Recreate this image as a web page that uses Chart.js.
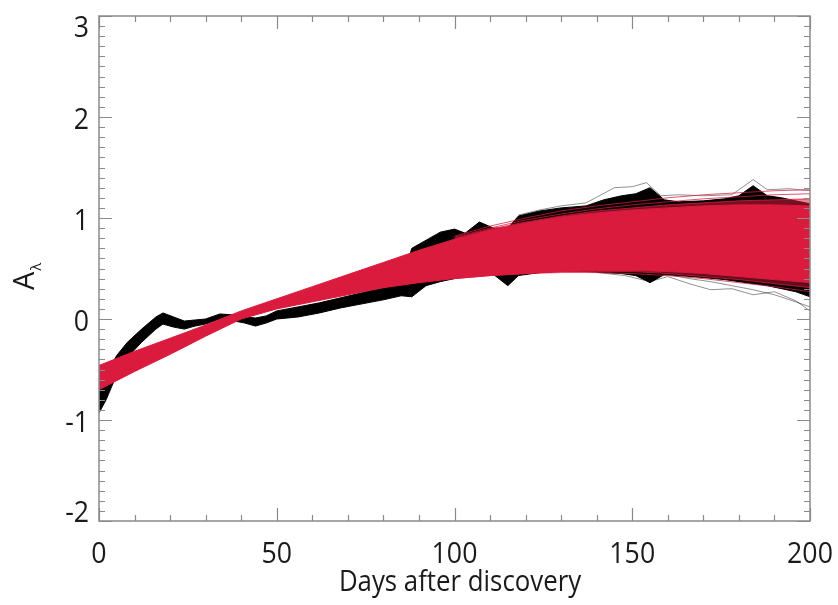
<!DOCTYPE html>
<html>
<head>
<meta charset="utf-8">
<script src="https://cdn.jsdelivr.net/npm/chart.js@4.4.1/dist/chart.umd.min.js"></script>
<style>
  html, body { margin: 0; padding: 0; background: #fff; }
</style>
</head>
<body>
<canvas id="myChart" width="838" height="605"></canvas>
<script>
// Extinction curves: observed ensemble (black) and fitted ensemble (red)
const redDays = [0, 10, 20, 30, 40, 50, 60, 70, 80, 90, 100, 110, 120, 130, 140, 150, 160, 170, 180, 190, 200];
const redHigh = [-0.46, -0.32, -0.19, -0.06, 0.08, 0.20, 0.32, 0.44, 0.56, 0.68, 0.79, 0.88, 0.95, 1.01, 1.05, 1.08, 1.10, 1.12, 1.13, 1.13, 1.12];
const redLow = [-0.70, -0.52, -0.35, -0.17, 0.00, 0.10, 0.17, 0.24, 0.31, 0.36, 0.40, 0.43, 0.45, 0.47, 0.48, 0.48, 0.47, 0.45, 0.42, 0.39, 0.36];

// fitted curves that stray outside the dense band
const strayDays = [100, 110, 120, 130, 140, 150, 160, 170, 180, 190, 200];
const strayA = [0.82, 0.92, 1.00, 1.07, 1.12, 1.16, 1.20, 1.23, 1.25, 1.27, 1.28];
const strayB = [0.81, 0.90, 0.98, 1.04, 1.09, 1.13, 1.16, 1.19, 1.21, 1.23, 1.24];
const strayC = [0.80, 0.89, 0.96, 1.02, 1.07, 1.10, 1.13, 1.15, 1.17, 1.18, 1.19];
const strayD = [0.40, 0.43, 0.45, 0.46, 0.46, 0.45, 0.43, 0.40, 0.36, 0.32, 0.27];
const strayE = [0.41, 0.44, 0.46, 0.47, 0.47, 0.47, 0.45, 0.42, 0.39, 0.35, 0.31];

const blackDays = [0, 2, 5, 8, 12, 16, 18, 21, 24, 27, 30, 34, 38, 41, 44, 47, 50, 56, 62, 68,
  74, 80, 85, 88, 92, 96, 100, 103, 107, 111, 115, 118, 124, 130, 137, 142, 147, 151, 155, 159,
  163, 170, 176, 180, 184, 188, 192, 196, 200];
const blackHigh = [-0.64, -0.55, -0.36, -0.23, -0.10, 0.02, 0.06, 0.02, -0.02, -0.01, 0.00, 0.05, 0.04, 0.02, 0.01, 0.03, 0.08, 0.12, 0.16, 0.21,
  0.26, 0.31, 0.36, 0.70, 0.78, 0.86, 0.89, 0.85, 0.96, 0.90, 0.90, 1.02, 1.07, 1.10, 1.12, 1.18, 1.22, 1.24, 1.30, 1.18,
  1.16, 1.17, 1.19, 1.22, 1.32, 1.22, 1.20, 1.17, 1.14];
const blackLow = [-0.93, -0.80, -0.55, -0.38, -0.23, -0.10, -0.05, -0.08, -0.10, -0.07, -0.05, 0.00, -0.02, -0.04, -0.07, -0.04, 0.00, 0.02, 0.06, 0.11,
  0.15, 0.19, 0.23, 0.22, 0.33, 0.37, 0.40, 0.42, 0.43, 0.44, 0.33, 0.43, 0.46, 0.47, 0.47, 0.46, 0.45, 0.43, 0.36, 0.44,
  0.43, 0.41, 0.39, 0.37, 0.35, 0.33, 0.30, 0.27, 0.22];

// single outlying observed curves
const grayUpperDays = [118, 124, 130, 137, 145, 150, 154, 158, 163, 170, 178, 184, 188, 194, 200];
const grayUpper = [1.03, 1.08, 1.12, 1.15, 1.30, 1.31, 1.35, 1.22, 1.23, 1.22, 1.23, 1.38, 1.28, 1.29, 1.27];
const grayLowerDays = [140, 148, 155, 160, 166, 172, 178, 184, 190, 196, 200];
const grayLower = [0.46, 0.43, 0.37, 0.42, 0.35, 0.29, 0.30, 0.24, 0.27, 0.18, 0.08];
const grayLower2 = [0.47, 0.45, 0.40, 0.44, 0.40, 0.37, 0.33, 0.29, 0.24, 0.17, 0.12];

const xTicks = [0, 50, 100, 150, 200];
const yTicks = [-2, -1, 0, 1, 2, 3];

const RED = "#db1b3d";
const PINK = "rgba(219,27,61,0.75)";
const AXIS = "#8a8a8a";
const TEXT = "#1a1a1a";
const FONT = '"Open Sans"';

const pts = (xs, ys) => xs.map((x, i) => ({ x: x, y: ys[i] }));

const line = (data, color, width, extra) => Object.assign({
    data: data,
    borderColor: color,
    borderWidth: width,
    pointRadius: 0,
    fill: false,
}, extra || {});

// narrow text: squeeze horizontally around the anchor point
function narrowText(ctx, text, x, y, sx) {
    ctx.save();
    ctx.translate(x, y);
    ctx.scale(sx, 1);
    ctx.fillText(text, 0, 0);
    ctx.restore();
}

// spines, inward ticks and labels
const frame = {
    id: "frame",
    afterDraw(chart) {
        const ctx = chart.ctx;
        const a = chart.chartArea;
        const xs = chart.scales.x;
        const ys = chart.scales.y;
        ctx.save();
        ctx.strokeStyle = AXIS;
        ctx.lineWidth = 1.5;
        ctx.strokeRect(a.left, a.top, a.right - a.left, a.bottom - a.top);

        ctx.lineWidth = 1.2;
        ctx.beginPath();
        for (let d = 0; d <= 200; d += 10) {
            const px = Math.round(xs.getPixelForValue(d)) + 0.5;
            const len = d % 50 === 0 ? 13 : 6;
            ctx.moveTo(px, a.bottom); ctx.lineTo(px, a.bottom - len);
            ctx.moveTo(px, a.top); ctx.lineTo(px, a.top + len);
        }
        for (let i = -20; i <= 30; i++) {
            const py = Math.round(ys.getPixelForValue(i / 10)) + 0.5;
            const len = i % 10 === 0 ? 13 : 6;
            ctx.moveTo(a.left, py); ctx.lineTo(a.left + len, py);
            ctx.moveTo(a.right, py); ctx.lineTo(a.right - len, py);
        }
        ctx.stroke();

        ctx.fillStyle = TEXT;
        ctx.font = "29px " + FONT;
        ctx.textAlign = "center";
        ctx.textBaseline = "alphabetic";
        xTicks.forEach(v => narrowText(ctx, String(v), xs.getPixelForValue(v), 563, 0.92));

        ctx.textAlign = "right";
        yTicks.forEach(v => {
            const py = ys.getPixelForValue(v);
            const base = Math.min(Math.max(py + 12, a.top + 21), a.bottom + 0.5);
            narrowText(ctx, String(v), 89, base, 0.92);
        });

        ctx.font = "30px " + FONT;
        ctx.textAlign = "center";
        narrowText(ctx, "Days after discovery", 460, 591, 0.86);

        // y title: A with subscript lambda
        ctx.translate(34, 290);
        ctx.rotate(-Math.PI / 2);
        ctx.textAlign = "left";
        ctx.font = "29px " + FONT;
        ctx.fillText("A", 0, 0);
        const w = ctx.measureText("A").width;
        ctx.font = "15px " + FONT;
        ctx.fillText("\u03bb", w + 1, 7);
        ctx.restore();
    }
};

const config = {
    type: "line",
    data: {
        datasets: [
            line(pts(redDays, redHigh), RED, 1, { fill: "+1", backgroundColor: RED, order: 0 }),
            line(pts(redDays, redLow), RED, 1, { order: 0 }),
            line(pts(strayDays, strayA), PINK, 1, { order: 0 }),
            line(pts(strayDays, strayB), PINK, 1, { order: 0 }),
            line(pts(strayDays, strayC), PINK, 1, { fill: 0, backgroundColor: "rgba(219,27,61,0.55)", order: 0 }),
            line(pts(strayDays, strayD), PINK, 1, { order: 0 }),
            line(pts(strayDays, strayE), PINK, 1, { fill: 1, backgroundColor: "rgba(219,27,61,0.45)", order: 0 }),
            line(pts(blackDays, blackHigh), "#000", 1, { fill: "+1", backgroundColor: "#000", order: 1 }),
            line(pts(blackDays, blackLow), "#000", 1, { order: 1 }),
            line(pts(grayUpperDays, grayUpper), "rgba(0,0,0,0.55)", 0.8, { order: 1 }),
            line(pts(grayLowerDays, grayLower), "rgba(0,0,0,0.55)", 0.8, { order: 1 }),
            line(pts(grayLowerDays, grayLower2), "rgba(0,0,0,0.55)", 0.8, { order: 1 }),
        ]
    },
    options: {
        responsive: false,
        animation: false,
        events: [],
        layout: { padding: { top: 16, right: 28, left: 0, bottom: 0 } },
        plugins: { legend: { display: false }, tooltip: { enabled: false } },
        scales: {
            x: {
                type: "linear",
                min: 0,
                max: 200,
                grid: { display: false },
                border: { display: false },
                ticks: { display: false, stepSize: 50 },
                afterFit: s => { s.height = 84; }
            },
            y: {
                type: "linear",
                min: -2,
                max: 3,
                grid: { display: false },
                border: { display: false },
                ticks: { display: false, stepSize: 1 },
                afterFit: s => { s.width = 99; }
            }
        }
    },
    plugins: [frame]
};

const myChart = new Chart(document.getElementById("myChart").getContext("2d"), config);
</script>
</body>
</html>
